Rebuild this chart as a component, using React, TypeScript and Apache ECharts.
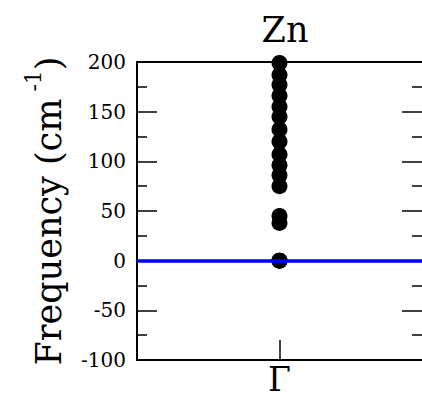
import React, { useEffect, useRef } from "react";
import * as echarts from "echarts";

const categories = ["Γ"];
const frequencies = [0, 0, 0, 38, 45, 75, 86, 96, 107, 120, 132, 145, 155, 166, 177, 187, 199];
const yTicks = { min: -100, max: 200, interval: 50 };
const titleText = "Zn";

const FONT = "DejaVu Serif";

export default function App() {
  const ref = useRef<HTMLDivElement>(null);
  useEffect(() => {
    if (!ref.current) return;
    const chart = echarts.init(ref.current, undefined, { renderer: "svg" });
    const yCommon = {
      type: "value",
      min: yTicks.min,
      max: yTicks.max,
      interval: yTicks.interval,
      splitLine: { show: false },
      axisTick: { show: true, inside: true, length: 20, lineStyle: { color: "#000", width: 1.5 } },
      minorTick: { show: true, splitNumber: 2, length: 10, lineStyle: { color: "#000", width: 1.5 } },
      minorSplitLine: { show: false },
    };
    chart.setOption({
      animation: false,
      backgroundColor: "#fff",
      title: {
        text: titleText,
        left: 280,
        textAlign: "center",
        top: 7,
        textStyle: { fontFamily: FONT, fontSize: 35, fontWeight: "normal", color: "#000", lineHeight: 35 },
      },
      grid: { left: 137, right: 0, top: 62, bottom: 39 },
      xAxis: [
        {
          type: "category",
          data: categories,
          boundaryGap: true,
          axisLine: { show: true, onZero: false, lineStyle: { color: "#000", width: 2 } },
          axisTick: { show: true, inside: true, alignWithLabel: true, length: 20, lineStyle: { color: "#000", width: 1.5 } },
          axisLabel: { fontFamily: FONT, fontSize: 33, lineHeight: 26, color: "#000", margin: 6 },
        },
        {
          type: "category",
          data: categories,
          position: "top",
          boundaryGap: true,
          axisLine: { show: true, onZero: false, lineStyle: { color: "#000", width: 2 } },
          axisTick: { show: false },
          axisLabel: { show: false },
        },
      ],
      yAxis: [
        {
          ...yCommon,
          position: "left",
          axisLabel: { fontFamily: FONT, fontSize: 20, color: "#000", margin: 11 },
          axisLine: { show: true, onZero: false, lineStyle: { color: "#000", width: 2 } },
          name: "{a|Frequency (cm}{b| -1}{a|)}",
          nameLocation: "middle",
          nameGap: 71,
          nameRotate: 90,
          nameTextStyle: {
            fontFamily: FONT,
            color: "#000",
            rich: {
              a: { fontFamily: FONT, fontSize: 35, color: "#000", verticalAlign: "bottom", lineHeight: 35 },
              b: { fontFamily: FONT, fontSize: 22, color: "#000", verticalAlign: "bottom", padding: [0, 0, 22, 0] },
            },
          },
        },
        {
          ...yCommon,
          position: "right",
          axisLine: { show: false, onZero: false },
          axisLabel: { show: false },
        },
      ],
      series: [
        {
          type: "scatter",
          xAxisIndex: 0,
          yAxisIndex: 0,
          symbol: "circle",
          symbolSize: 16,
          itemStyle: { color: "#000", opacity: 1 },
          data: frequencies.map((v) => [0, v]),
          z: 2,
        },
        {
          type: "line",
          xAxisIndex: 0,
          yAxisIndex: 0,
          data: [],
          z: 5,
          markLine: {
            silent: true,
            symbol: "none",
            label: { show: false },
            lineStyle: { color: "#0000ff", width: 3.5, type: "solid" },
            data: [{ yAxis: 0 }],
          },
        },
      ],
    });
    return () => chart.dispose();
  }, []);
  return (
    <div
      ref={ref}
      style={{ position: "fixed", left: 0, top: 0, width: 422, height: 399 }}
    />
  );
}
